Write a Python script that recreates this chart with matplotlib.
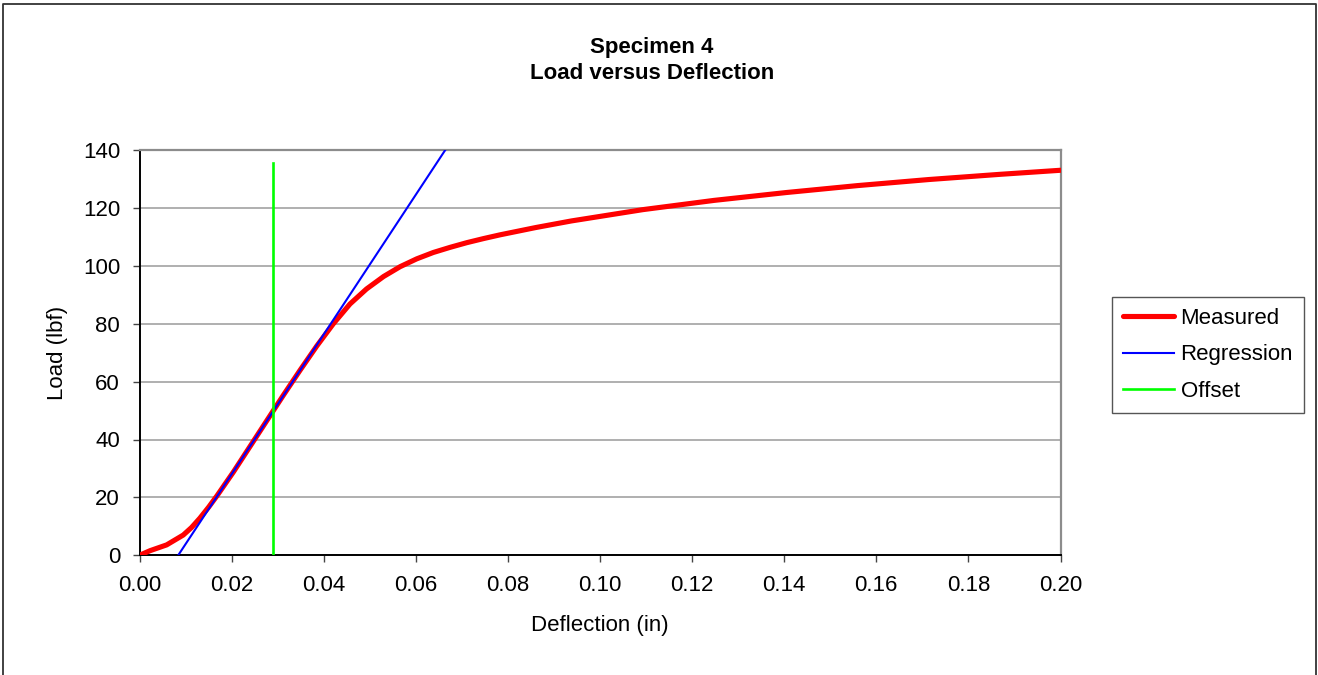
import matplotlib
matplotlib.use("Agg")
import matplotlib.pyplot as plt
from matplotlib.lines import Line2D

plt.rcParams['font.family'] = ['Liberation Sans', 'DejaVu Sans']

# Data
deflection = [0.0, 0.0023, 0.0059, 0.0095, 0.0113, 0.0131, 0.0150, 0.0168, 0.0204,
              0.0240, 0.0276, 0.0312, 0.0349, 0.0385, 0.0421, 0.0457, 0.0493, 0.0530,
              0.0566, 0.0602, 0.0638, 0.0675, 0.0711, 0.0747, 0.0783, 0.0860, 0.0938,
              0.1093, 0.1248, 0.1404, 0.1559, 0.1714, 0.1869, 0.2000]
load = [0.0, 1.6, 3.6, 7.0, 9.6, 12.8, 16.6, 20.5, 28.8,
        37.6, 46.4, 55.2, 64.0, 72.3, 80.0, 86.8, 92.0, 96.3,
        99.7, 102.4, 104.6, 106.4, 108.0, 109.4, 110.7, 113.2, 115.5,
        119.4, 122.6, 125.3, 127.7, 129.8, 131.6, 133.0]
regression_x = [0.0084, 0.0664]
regression_y = [0.0, 140.0]
offset_x = [0.0289, 0.0289]
offset_y = [0.0, 135.5]

title_lines = ["Specimen 4", "Load versus Deflection"]
x_ticks = [0.00, 0.02, 0.04, 0.06, 0.08, 0.10, 0.12, 0.14, 0.16, 0.18, 0.20]
y_ticks = [0, 20, 40, 60, 80, 100, 120, 140]

W, H = 1318, 675
fig = plt.figure(figsize=(W / 100, H / 100), dpi=100)
fs = 16

ax = fig.add_axes([139.5 / W, 1 - 555.3 / H, (1060.5 - 139.5) / W, (555.3 - 150) / H])

ax.plot(deflection, load, color='#ff0000', lw=3.7, label='Measured',
        solid_capstyle='round', solid_joinstyle='round', zorder=3)
ax.plot(regression_x, regression_y, color='#0000ff', lw=1.5, label='Regression', zorder=4)
ax.plot(offset_x, offset_y, color='#00ff00', lw=1.9, label='Offset', zorder=5)

ax.set_xlim(0, 0.20)
ax.set_ylim(0, 140)
ax.set_xticks(x_ticks)
ax.set_xticklabels([f"{v:.2f}" for v in x_ticks])
ax.set_yticks(y_ticks)
ax.set_yticklabels([str(v) for v in y_ticks])
ax.tick_params(axis='both', labelsize=fs, length=5, width=1, direction='out', pad=9, color='#444444')

ax.yaxis.grid(True, color='#9a9a9a', lw=1.1)
ax.set_axisbelow(True)
for s in ['top', 'right']:
    ax.spines[s].set_color('#8c8c8c')
    ax.spines[s].set_linewidth(1.6)
for s in ['left', 'bottom']:
    ax.spines[s].set_color('#000000')
    ax.spines[s].set_linewidth(1.4)

ax.set_xlabel("Deflection (in)", fontsize=fs, labelpad=14)
ax.set_ylabel("Load (lbf)", fontsize=fs, labelpad=11)

fig.text(652 / W, 1 - 60.5 / H, "\n".join(title_lines), ha='center', va='center',
         fontsize=fs, fontweight='bold', linespacing=1.3)

leg = ax.legend(loc='upper left', bbox_to_anchor=(1111.7 / W, 1 - 296.7 / H),
                bbox_transform=fig.transFigure, fontsize=fs, frameon=True,
                fancybox=False, edgecolor='#555555', framealpha=1,
                handlelength=2.3, handletextpad=0.3, labelspacing=0.7,
                borderpad=0.5, borderaxespad=0)
leg.get_frame().set_linewidth(1.0)

# Outer chart border (left, top, right)
fig.add_artist(Line2D([2.5 / W, 2.5 / W, 1315.5 / W, 1315.5 / W],
                      [0, 1 - 4 / H, 1 - 4 / H, 0], transform=fig.transFigure,
                      color='#333333', lw=1.3))

fig.savefig("out.png", dpi=100)
